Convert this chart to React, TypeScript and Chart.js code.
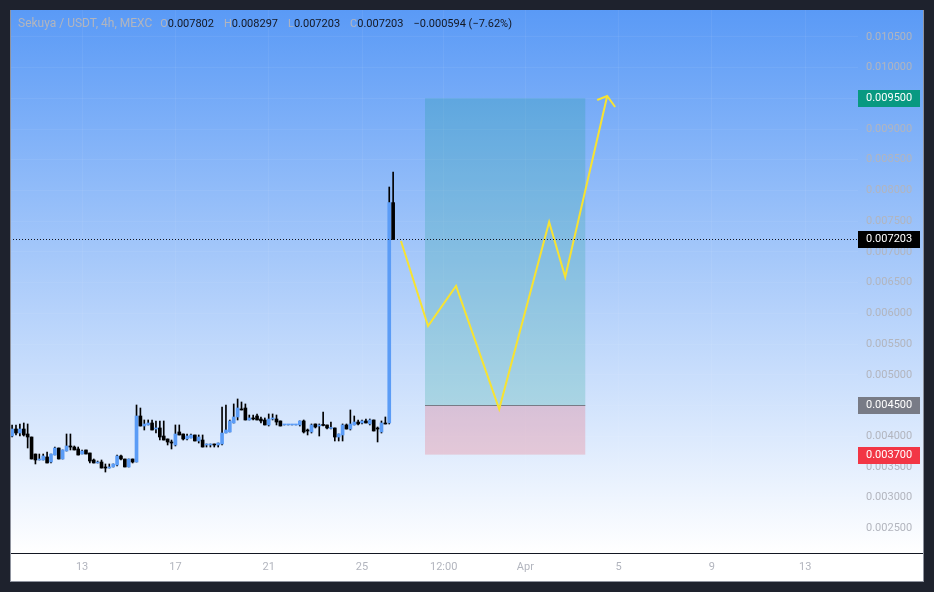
import React, { useEffect, useRef } from 'react';
import { Chart, registerables } from 'chart.js';

Chart.register(...registerables);

// ---- data ----
const candleStartDay = 10; // Mar 10, 00:00
const candleStepDays = 1 / 6; // 4h candles

const opens = [
  0.004003, 0.004117, 0.004052, 0.004117, 0.004036, 0.003987, 0.003710, 0.003613, 0.003613, 0.003662,
  0.003580, 0.003694, 0.003808, 0.003629, 0.003759, 0.003841, 0.003824, 0.003792, 0.003710, 0.003776,
  0.003727, 0.003613, 0.003564, 0.003580, 0.003499, 0.003482, 0.003499, 0.003531, 0.003678, 0.003629,
  0.003499, 0.003629, 0.003580, 0.004329, 0.004166, 0.004183, 0.004215, 0.004117, 0.004134, 0.004003,
  0.003955, 0.003906, 0.003857, 0.004069, 0.004036, 0.003955, 0.003971, 0.004020, 0.003922, 0.003938,
  0.003857, 0.003857, 0.003873, 0.003857, 0.003873, 0.004052, 0.004069, 0.004215, 0.004313, 0.004443,
  0.004459, 0.004264, 0.004297, 0.004329, 0.004280, 0.004264, 0.004183, 0.004280, 0.004280, 0.004248,
  0.004183, 0.004183, 0.004183, 0.004183, 0.004183, 0.004248, 0.004101, 0.004069, 0.004199, 0.004166,
  0.004183, 0.004183, 0.004126, 0.004134, 0.003987, 0.004020, 0.004183, 0.004117, 0.004183, 0.004231,
  0.004215, 0.004248, 0.004199, 0.004264, 0.004134, 0.004069, 0.004215, 0.004215, 0.007802,
];
const highs = [
  0.004183, 0.004183, 0.004199, 0.004215, 0.004199, 0.003987, 0.003710, 0.003710, 0.003710, 0.003743,
  0.003710, 0.003824, 0.003808, 0.003776, 0.004036, 0.004036, 0.003841, 0.003824, 0.003776, 0.003776,
  0.003727, 0.003629, 0.003596, 0.003613, 0.003548, 0.003548, 0.003548, 0.003694, 0.003694, 0.003629,
  0.003629, 0.003629, 0.004508, 0.004459, 0.004264, 0.004264, 0.004264, 0.004248, 0.004248, 0.004248,
  0.003955, 0.003938, 0.004183, 0.004183, 0.004036, 0.004036, 0.004036, 0.004020, 0.004020, 0.004020,
  0.003873, 0.003873, 0.003873, 0.003889, 0.004476, 0.004508, 0.004264, 0.004525, 0.004606, 0.004557,
  0.004525, 0.004345, 0.004345, 0.004362, 0.004313, 0.004297, 0.004362, 0.004362, 0.004345, 0.004248,
  0.004183, 0.004183, 0.004183, 0.004183, 0.004248, 0.004264, 0.004117, 0.004199, 0.004199, 0.004199,
  0.004394, 0.004183, 0.004231, 0.004134, 0.004036, 0.004199, 0.004199, 0.004427, 0.004329, 0.004264,
  0.004264, 0.004280, 0.004280, 0.004264, 0.004150, 0.004248, 0.004313, 0.008056, 0.008297,
];
const lows = [
  0.003987, 0.004020, 0.004003, 0.004003, 0.003808, 0.003629, 0.003548, 0.003613, 0.003613, 0.003564,
  0.003564, 0.003694, 0.003629, 0.003629, 0.003759, 0.003776, 0.003776, 0.003694, 0.003710, 0.003710,
  0.003564, 0.003564, 0.003564, 0.003482, 0.003417, 0.003482, 0.003499, 0.003515, 0.003613, 0.003499,
  0.003499, 0.003564, 0.003580, 0.004166, 0.004101, 0.004183, 0.004101, 0.004052, 0.003938, 0.003938,
  0.003857, 0.003792, 0.003841, 0.004020, 0.003938, 0.003938, 0.003971, 0.003922, 0.003889, 0.003824,
  0.003824, 0.003824, 0.003824, 0.003824, 0.003857, 0.004052, 0.004069, 0.004215, 0.004264, 0.004427,
  0.004264, 0.004264, 0.004264, 0.004264, 0.004215, 0.004183, 0.004166, 0.004264, 0.004183, 0.004166,
  0.004183, 0.004183, 0.004183, 0.004183, 0.004166, 0.004052, 0.004020, 0.004052, 0.004134, 0.004003,
  0.004166, 0.004117, 0.004117, 0.003922, 0.003922, 0.003922, 0.004117, 0.004101, 0.004183, 0.004183,
  0.004199, 0.004215, 0.004183, 0.004085, 0.003906, 0.004052, 0.004199, 0.004199, 0.007203,
];
const closes = [
  0.004117, 0.004052, 0.004117, 0.004020, 0.003987, 0.003629, 0.003613, 0.003629, 0.003678, 0.003564,
  0.003710, 0.003808, 0.003629, 0.003776, 0.003841, 0.003824, 0.003776, 0.003694, 0.003759, 0.003710,
  0.003596, 0.003564, 0.003580, 0.003482, 0.003482, 0.003499, 0.003548, 0.003678, 0.003629, 0.003499,
  0.003629, 0.003580, 0.004329, 0.004166, 0.004199, 0.004215, 0.004101, 0.004134, 0.003987, 0.003938,
  0.003906, 0.003889, 0.004036, 0.004020, 0.003955, 0.004003, 0.004020, 0.003922, 0.003987, 0.003824,
  0.003873, 0.003873, 0.003857, 0.003889, 0.004052, 0.004101, 0.004248, 0.004313, 0.004459, 0.004427,
  0.004264, 0.004297, 0.004280, 0.004264, 0.004248, 0.004183, 0.004280, 0.004297, 0.004231, 0.004166,
  0.004183, 0.004183, 0.004183, 0.004183, 0.004248, 0.004069, 0.004085, 0.004183, 0.004150, 0.004183,
  0.004175, 0.004134, 0.004134, 0.003987, 0.004036, 0.004183, 0.004117, 0.004199, 0.004231, 0.004199,
  0.004248, 0.004215, 0.004264, 0.004085, 0.004117, 0.004215, 0.004199, 0.007802, 0.007203,
];

const xTickDays = [13, 17, 21, 25, 28.5, 32, 36, 40, 44];
const xTickLabels = ['13', '17', '21', '25', '12:00', 'Apr', '5', '9', '13'];
const yTickValues = [
  0.0025, 0.003, 0.0035, 0.004, 0.0045, 0.005, 0.0055, 0.006, 0.0065, 0.007, 0.0075, 0.008, 0.0085,
  0.009, 0.0095, 0.01, 0.0105,
];

const projectionDays = [26.67, 27.83, 29.03, 30.88, 33.02, 33.71, 35.51];
const projectionPrices = [0.007177, 0.005794, 0.006445, 0.004443, 0.007487, 0.006591, 0.009537];
const arrowDays = [35.08, 35.51, 35.85];
const arrowPrices = [0.009472, 0.009537, 0.009358];

const positionStartDay = 27.7;
const positionEndDay = 34.57;
const targetPrice = 0.0095;
const entryPrice = 0.0045;
const stopPrice = 0.0037;
const lastPrice = 0.007203;

const titleText = 'Sekuya / USDT, 4h, MEXC';
const ohlcLetters = ['O', 'H', 'L', 'C'];
const ohlcValues = ['0.007802', '0.008297', '0.007203', '0.007203'];
const changeText = '\u22120.000594 (\u22127.62%)';

const X_MIN = 9.91;
const X_MAX = 46.26;
const Y_MIN = 0.002099;
const Y_MAX = 0.010937;

const UP = '#5b9cf6';
const DOWN = '#000000';
const FONT = 'Roboto, "Liberation Sans", sans-serif';
const GREY = '#b2b5be';
const GRID = 'rgba(255,255,255,0.06)';

const bgPlugin = {
  id: 'tvBackground',
  beforeDraw(chart: any) {
    const { ctx, chartArea, width, height } = chart;
    ctx.save();
    ctx.fillStyle = '#ffffff';
    ctx.fillRect(0, 0, width, height);
    const g = ctx.createLinearGradient(0, 0, 0, chartArea.bottom);
    g.addColorStop(0, 'rgb(90,154,246)');
    g.addColorStop(1, 'rgb(255,255,255)');
    ctx.fillStyle = g;
    ctx.fillRect(0, 0, width, chartArea.bottom);
    ctx.restore();
  },
  beforeDatasetsDraw(chart: any) {
    const { ctx, scales } = chart;
    const xs = scales.x;
    const ys = scales.y;
    const x0 = xs.getPixelForValue(positionStartDay);
    const x1 = xs.getPixelForValue(positionEndDay);
    const yT = ys.getPixelForValue(targetPrice);
    const yE = ys.getPixelForValue(entryPrice);
    const yS = ys.getPixelForValue(stopPrice);
    ctx.save();
    ctx.fillStyle = 'rgba(8,153,129,0.2)';
    ctx.fillRect(x0, yT, x1 - x0, yE - yT);
    ctx.fillStyle = 'rgba(242,54,69,0.2)';
    ctx.fillRect(x0, yE, x1 - x0, yS - yE);
    ctx.fillStyle = '#787b86';
    ctx.fillRect(x0, Math.round(yE), x1 - x0, 1);
    ctx.restore();
  },
  afterDatasetsDraw(chart: any) {
    const { ctx, chartArea, scales } = chart;
    const y = Math.round(scales.y.getPixelForValue(lastPrice)) + 0.5;
    ctx.save();
    ctx.strokeStyle = '#131722';
    ctx.lineWidth = 1;
    ctx.setLineDash([1, 2]);
    ctx.beginPath();
    ctx.moveTo(chartArea.left, y);
    ctx.lineTo(chartArea.right, y);
    ctx.stroke();
    ctx.restore();
  },
  afterDraw(chart: any) {
    const { ctx, chartArea, scales, width, height } = chart;
    const ys = scales.y;
    ctx.save();
    // axis separator line
    ctx.fillStyle = '#131722';
    ctx.fillRect(0, Math.round(chartArea.bottom), width, 1);
    // frame
    ctx.fillStyle = '#8f939e';
    ctx.fillRect(0, 0, 1, height);
    ctx.fillRect(width - 1, 0, 1, height);
    ctx.fillRect(0, height - 1, width, 1);

    // price labels
    const labels = [
      { v: targetPrice, bg: '#089981' },
      { v: lastPrice, bg: '#000000' },
      { v: entryPrice, bg: '#787b86' },
      { v: stopPrice, bg: '#f23645' },
    ];
    ctx.font = `11px ${FONT}`;
    ctx.textBaseline = 'middle';
    ctx.textAlign = 'left';
    for (const l of labels) {
      const py = Math.round(ys.getPixelForValue(l.v));
      ctx.fillStyle = l.bg;
      ctx.fillRect(chartArea.right, py - 8, 62, 17);
      ctx.fillStyle = '#ffffff';
      ctx.fillText(l.v.toFixed(6), chartArea.right + 8, py + 0.5);
    }

    // header legend
    ctx.font = `12px ${FONT}`;
    let x = 8;
    const ty = 14;
    ctx.fillStyle = GREY;
    ctx.fillText(titleText, x, ty);
    x += ctx.measureText(titleText).width + 8;
    ctx.font = `11px ${FONT}`;
    for (let i = 0; i < ohlcLetters.length; i++) {
      ctx.fillStyle = GREY;
      ctx.fillText(ohlcLetters[i], x, ty);
      x += ctx.measureText(ohlcLetters[i]).width;
      ctx.fillStyle = '#131722';
      ctx.fillText(ohlcValues[i], x, ty);
      x += ctx.measureText(ohlcValues[i]).width + 10;
    }
    ctx.fillStyle = '#131722';
    ctx.fillText(changeText, x, ty);
    ctx.restore();
  },
};

function App() {
  const ref = useRef<HTMLCanvasElement | null>(null);

  useEffect(() => {
    const canvas = ref.current;
    if (!canvas) return;
    const days = opens.map((_, i) => candleStartDay + i * candleStepDays);
    const colors = opens.map((o, i) => (closes[i] >= o ? UP : DOWN));
    const wickData = days.map((d, i) => ({ x: d, y: [lows[i], highs[i]] }));
    const bodyData = days.map((d, i) => ({ x: d, y: [opens[i], closes[i]] }));

    const chart = new Chart(canvas, {
      type: 'bar',
      data: {
        datasets: [
          {
            type: 'bar',
            data: wickData as any,
            backgroundColor: '#000000',
            barThickness: 1,
            grouped: false,
            order: 3,
          } as any,
          {
            type: 'bar',
            data: bodyData as any,
            backgroundColor: colors,
            barThickness: 3,
            minBarLength: 1,
            grouped: false,
            order: 2,
          } as any,
          {
            type: 'line',
            data: projectionDays.map((d, i) => ({ x: d, y: projectionPrices[i] })),
            borderColor: '#f7e332',
            borderWidth: 2,
            pointRadius: 0,
            tension: 0,
            order: 1,
          } as any,
          {
            type: 'line',
            data: arrowDays.map((d, i) => ({ x: d, y: arrowPrices[i] })),
            borderColor: '#f7e332',
            borderWidth: 2,
            pointRadius: 0,
            tension: 0,
            order: 1,
          } as any,
        ],
      },
      options: {
        animation: false,
        responsive: false,
        maintainAspectRatio: false,
        layout: { padding: 0 },
        plugins: {
          legend: { display: false },
          tooltip: { enabled: false },
          title: { display: false },
        },
        scales: {
          x: {
            type: 'linear',
            min: X_MIN,
            max: X_MAX,
            offset: false,
            grid: { color: GRID, drawTicks: false, offset: false },
            border: { display: false },
            ticks: {
              color: GREY,
              font: { size: 11, family: FONT },
              padding: 8,
              maxRotation: 0,
              autoSkip: false,
              callback: (v: any) => {
                const i = xTickDays.indexOf(Number(v));
                return i >= 0 ? xTickLabels[i] : '';
              },
            },
            afterBuildTicks: (s: any) => {
              s.ticks = xTickDays.map((v) => ({ value: v }));
            },
            afterFit: (s: any) => {
              s.height = 29;
              s.paddingLeft = 0;
              s.paddingRight = 0;
            },
          },
          y: {
            type: 'linear',
            position: 'right',
            min: Y_MIN,
            max: Y_MAX,
            grid: { color: GRID, drawTicks: false },
            border: { display: false },
            ticks: {
              color: GREY,
              font: { size: 11, family: FONT },
              padding: 8,
              callback: (v: any) => Number(v).toFixed(6),
            },
            afterBuildTicks: (s: any) => {
              s.ticks = yTickValues.map((v) => ({ value: v }));
            },
            afterFit: (s: any) => {
              s.width = 66;
              s.paddingTop = 0;
              s.paddingBottom = 0;
            },
          },
        },
      } as any,
      plugins: [bgPlugin],
    });
    return () => chart.destroy();
  }, []);

  return (
    <div style={{ position: 'fixed', inset: 0, background: '#1e222d' }}>
      <canvas
        ref={ref}
        width={914}
        height={572}
        style={{ position: 'absolute', left: 10, top: 10, width: 914, height: 572 }}
      />
    </div>
  );
}

export default App;
